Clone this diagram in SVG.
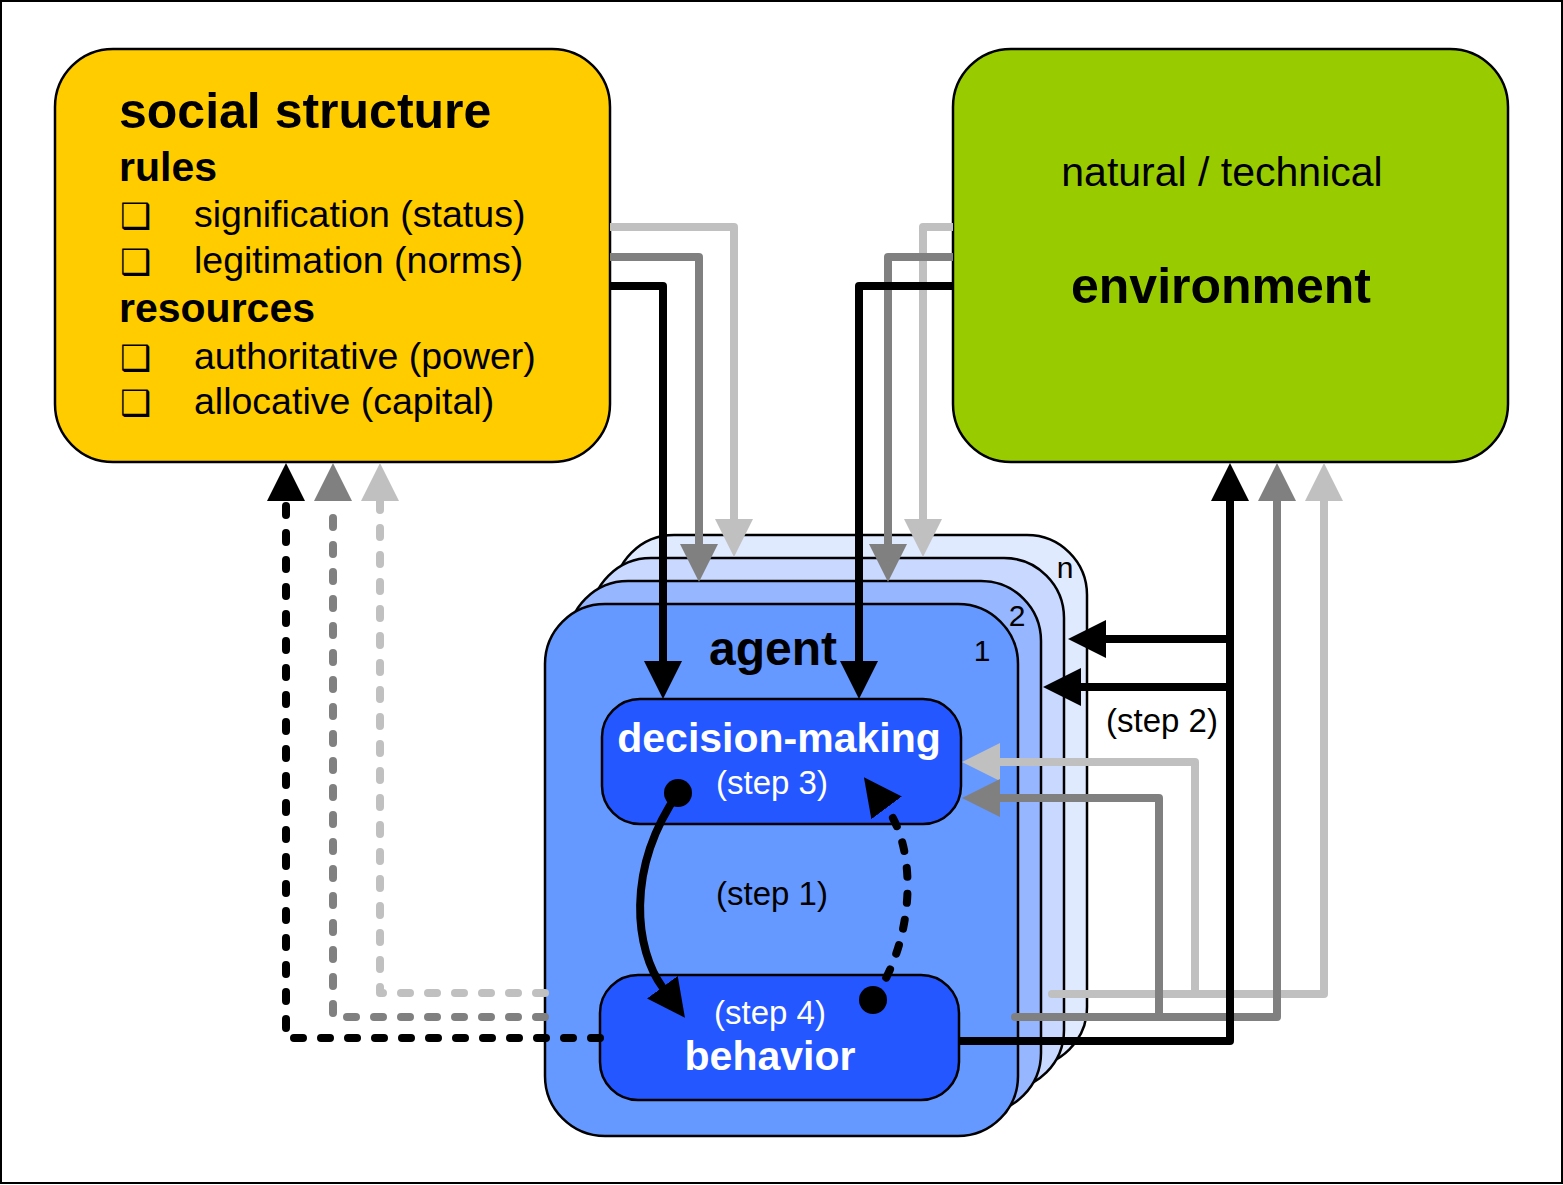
<svg xmlns="http://www.w3.org/2000/svg" width="1563" height="1185" viewBox="0 0 1563 1185">
<style>
.t{font-family:"Liberation Sans",Arial,sans-serif}
.b{font-weight:bold}
.w{fill:#fff}
.box{stroke:#000;stroke-width:2.5}
.ln{fill:none;stroke-width:8;stroke-linejoin:round}
.k{stroke:#000}
.g{stroke:#808080}
.lg{stroke:#c0c0c0}
.d{stroke-dasharray:9 18;stroke-linecap:round}
.cb{font-family:"DejaVu Sans",sans-serif;font-size:35px;font-weight:bold}
</style>
<defs>
<marker id="ak" viewBox="0 0 38 38" refX="1" refY="19" markerWidth="38" markerHeight="38" markerUnits="userSpaceOnUse" orient="auto"><path d="M0,0L38,19L0,38z" fill="#000"/></marker>
<marker id="ag" viewBox="0 0 38 38" refX="1" refY="19" markerWidth="38" markerHeight="38" markerUnits="userSpaceOnUse" orient="auto"><path d="M0,0L38,19L0,38z" fill="#808080"/></marker>
<marker id="alg" viewBox="0 0 38 38" refX="1" refY="19" markerWidth="38" markerHeight="38" markerUnits="userSpaceOnUse" orient="auto"><path d="M0,0L38,19L0,38z" fill="#c0c0c0"/></marker>
</defs>
<rect x="1" y="1" width="1561" height="1182" fill="#fff" stroke="#000" stroke-width="2"/>

<g id="social-structure">
<rect class="box" x="55" y="49" width="555" height="413" rx="58" fill="#ffcc00"/>
<text class="t b" x="119" y="128" font-size="50">social structure</text>
<text class="t b" x="119" y="181" font-size="41">rules</text>
<text class="cb" x="120" y="228">❑</text>
<text class="t" x="194" y="227" font-size="37.5">signification (status)</text>
<text class="cb" x="120" y="274">❑</text>
<text class="t" x="194" y="273" font-size="37.5">legitimation (norms)</text>
<text class="t b" x="119" y="322" font-size="41">resources</text>
<text class="cb" x="120" y="370">❑</text>
<text class="t" x="194" y="369" font-size="37.5">authoritative (power)</text>
<text class="cb" x="120" y="415">❑</text>
<text class="t" x="194" y="414" font-size="37.5">allocative (capital)</text>
</g>

<g id="environment">
<rect class="box" x="953" y="49" width="555" height="413" rx="58" fill="#99cc00"/>
<text class="t" x="1222" y="186" font-size="41" text-anchor="middle">natural / technical</text>
<text class="t b" x="1221" y="303" font-size="50" text-anchor="middle">environment</text>
</g>

<g id="agent-n">
<rect class="box" x="614" y="535" width="473" height="532" rx="60" fill="#e0eaff"/>
<text class="t" x="1065" y="578" font-size="30" text-anchor="middle">n</text>
</g>
<g id="agent-3">
<rect class="box" x="591" y="558" width="473" height="532" rx="60" fill="#c8d8ff"/>
</g>
<g id="agent-2">
<rect class="box" x="568" y="581" width="473" height="532" rx="60" fill="#96b7ff"/>
<text class="t" x="1017" y="626" font-size="30" text-anchor="middle">2</text>
</g>
<g id="agent-1">
<rect class="box" x="545" y="604" width="473" height="532" rx="60" fill="#6699ff"/>
<text class="t" x="982" y="661" font-size="30" text-anchor="middle">1</text>
<text class="t b" x="773" y="665" font-size="48" text-anchor="middle">agent</text>
<text class="t" x="772" y="905" font-size="33" text-anchor="middle">(step 1)</text>
</g>
<g id="decision-making">
<rect class="box" x="602" y="699" width="359" height="125" rx="38" fill="#2457ff"/>
<text class="t b w" x="779" y="752" font-size="41" text-anchor="middle">decision-making</text>
<text class="t w" x="772" y="794" font-size="33" text-anchor="middle">(step 3)</text>
</g>
<g id="behavior">
<rect class="box" x="600" y="975" width="359" height="125" rx="38" fill="#2457ff"/>
<text class="t w" x="770" y="1024" font-size="33" text-anchor="middle">(step 4)</text>
<text class="t b w" x="770" y="1070" font-size="41" text-anchor="middle">behavior</text>
</g>

<g id="connectors">
<path class="ln lg" d="M610,227H734V520" marker-end="url(#alg)"/>
<path class="ln g" d="M610,257H699V545" marker-end="url(#ag)"/>
<path class="ln k" d="M610,286H663V662" marker-end="url(#ak)"/>
<path class="ln lg" d="M953,227H923V520" marker-end="url(#alg)"/>
<path class="ln g" d="M953,257H888V545" marker-end="url(#ag)"/>
<path class="ln k" d="M953,286H859V662" marker-end="url(#ak)"/>
<path class="ln lg" d="M1052,994H1324V500" stroke-linecap="round" marker-end="url(#alg)"/>
<path class="ln lg" d="M1195,994V762H999" marker-end="url(#alg)"/>
<path class="ln g" d="M1015,1017H1277V500" stroke-linecap="round" marker-end="url(#ag)"/>
<path class="ln g" d="M1159,1017V798H999" marker-end="url(#ag)"/>
<path class="ln k" d="M959,1041H1230V500" marker-end="url(#ak)"/>
<path class="ln k" d="M1230,639H1105" marker-end="url(#ak)"/>
<path class="ln k" d="M1230,687H1080" marker-end="url(#ak)"/>
<path class="ln lg d" d="M545,993H380V500" marker-end="url(#alg)"/>
<path class="ln g d" d="M545,1017H333V500" marker-end="url(#ag)"/>
<path class="ln k d" d="M600,1038H286V500" marker-end="url(#ak)"/>
<circle cx="678" cy="793" r="14" fill="#000"/>
<path class="ln k" d="M678,793C625,870 635,950 663,988" marker-end="url(#ak)"/>
<circle cx="873" cy="1000" r="14" fill="#000"/>
<path class="ln k" d="M873,1000C915,940 918,850 886,807" stroke-dasharray="9 17" stroke-linecap="round" marker-end="url(#ak)"/>
<text class="t" x="1162" y="732" font-size="33" text-anchor="middle">(step 2)</text>
</g>
</svg>
